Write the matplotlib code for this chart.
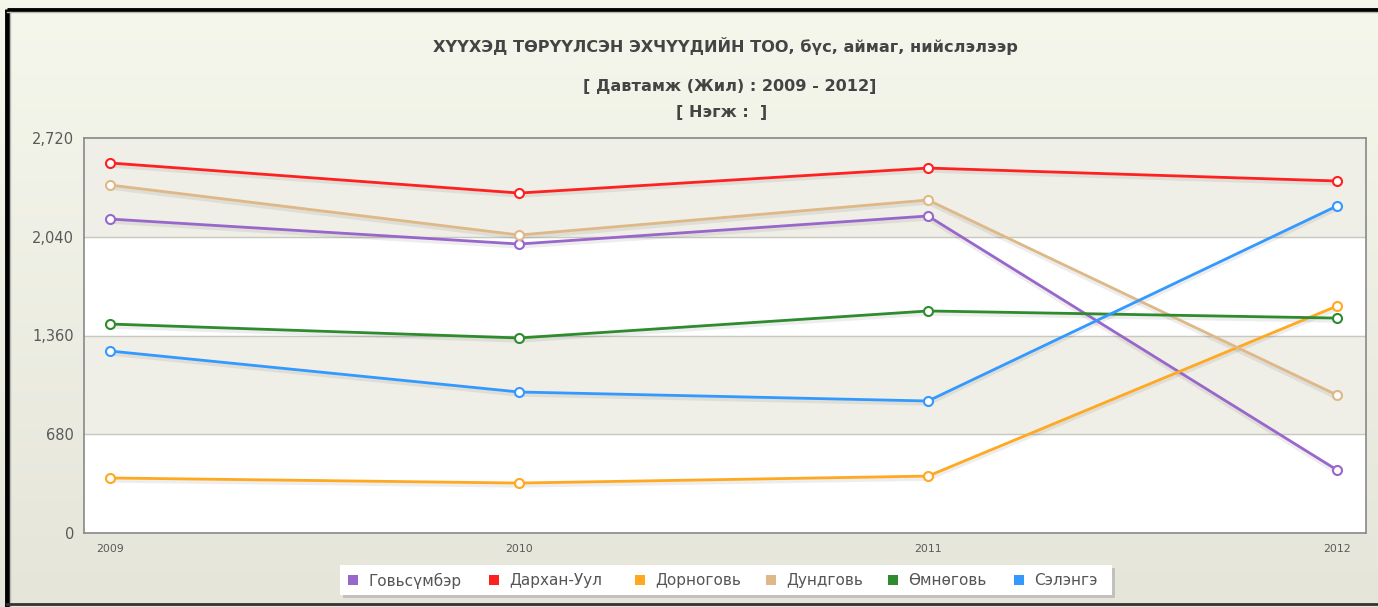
import numpy as np
import matplotlib.pyplot as plt
from matplotlib.patches import Rectangle

years = [2009, 2010, 2011, 2012]
series_names = ["Говьсүмбэр", "Дархан-Уул", "Дорноговь", "Дундговь", "Өмнөговь", "Сэлэнгэ"]
govisumber = [2162, 1990, 2183, 434]
darkhan_uul = [2548, 2341, 2513, 2424]
dornogovi = [379, 344, 392, 1563]
dundgovi = [2396, 2052, 2293, 950]
omnogovi = [1439, 1343, 1529, 1480]
selenge = [1253, 971, 909, 2252]
colors = ["#9966cc", "#ff2020", "#ffa820", "#deb887", "#2e8b2e", "#3399ff"]
yticks = [0, 680, 1360, 2040, 2720]

W, H = 1378, 607
fig = plt.figure(figsize=(W / 100, H / 100), dpi=100)

# background gradient + frame
bg = fig.add_axes([0, 0, 1, 1], zorder=-10)
grad = np.linspace(0, 1, 256).reshape(-1, 1)
top = np.array([0.965, 0.969, 0.925])
bot = np.array([0.898, 0.898, 0.855])
img = top + (bot - top) * grad[:, :, None] * np.ones((1, 1, 3))
bg.imshow(img, aspect="auto", extent=[0, W, H, 0])
bg.set_xlim(0, W)
bg.set_ylim(H, 0)
bg.axis("off")
bg.plot([7, W], [10, 10], color="black", lw=3.5, solid_capstyle="butt")
bg.plot([7, 7], [9, H], color="black", lw=3.5, solid_capstyle="butt")
bg.plot([7, W], [11.8, 11.8], color="#b8b8b0", lw=1)
bg.plot([9.5, 9.5], [12, H], color="#b8b8b0", lw=1)
bg.plot([7, W], [604, 604], color="#333333", lw=2)

# titles
tkw = dict(ha="center", va="center", fontsize=11.6, fontweight="bold", color="#444444")
bg.text(725, 46, "ХҮҮХЭД ТӨРҮҮЛСЭН ЭХЧҮҮДИЙН ТОО, бүс, аймаг, нийслэлээр", **tkw)
bg.text(730, 87, "[ Давтамж (Жил) : 2009 - 2012]", **tkw)
bg.text(722, 112, "[ Нэгж :  ]", **tkw)

ax = fig.add_axes([84 / W, 1 - 533 / H, (1366 - 84) / W, (533 - 138) / H])
ax.set_facecolor("white")
ax.set_xlim(2009 - 0.064, 2012 + 0.071)
ax.set_ylim(0, 2720)

# alternating bands
for i in range(len(yticks) - 1):
    if i % 2 == 1:
        ax.axhspan(yticks[i], yticks[i + 1], color="#efefe8", zorder=0)
for y in yticks[1:-1]:
    ax.axhline(y, color="#c8c8c0", lw=1, zorder=1)

data = [govisumber, darkhan_uul, dornogovi, dundgovi, omnogovi, selenge]
for name, vals, c in zip(series_names, data, colors):
    # soft shadow
    ax.plot(years, [v - 18 for v in vals], color="#000000", alpha=0.07, lw=3, zorder=2)
    ax.plot(years, vals, color=c, lw=2, marker="o", markersize=6.5,
            markerfacecolor="white", markeredgecolor=c, markeredgewidth=1.5,
            zorder=3, label=name)

ax.set_yticks(yticks)
ax.set_yticklabels([f"{v:,}" for v in yticks])
ax.set_xticks(years)
ax.tick_params(axis="y", length=0, labelsize=10.5, colors="#5a5a5a", pad=7)
ax.tick_params(axis="x", length=0, labelsize=7.8, colors="#5a5a5a", pad=8)
for sp in ax.spines.values():
    sp.set_color("#888888")
    sp.set_linewidth(1.2)

# legend
bg.add_patch(Rectangle((343, 568), 772, 30, facecolor="#aaaaaa", alpha=0.6, zorder=1))
bg.add_patch(Rectangle((340, 565), 772, 30, facecolor="white", zorder=2))
square_x = [348, 489, 635, 766, 888, 1014]
for x, name, c in zip(square_x, series_names, colors):
    bg.add_patch(Rectangle((x, 575), 10, 10, facecolor=c, zorder=3))
    bg.text(x + 20, 580.5, name, ha="left", va="center", fontsize=11,
            color="#555555", zorder=3)

fig.savefig("out.png", dpi=100)
